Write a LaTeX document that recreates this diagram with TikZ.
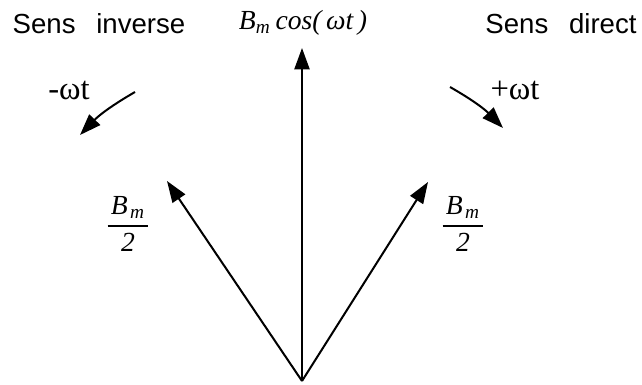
\documentclass[tikz,border=0pt]{standalone}
\usepackage{amsmath}
\usepackage{fontspec}
\setmainfont{Liberation Serif}
\newfontfamily\labelsans{Liberation Sans}
\usetikzlibrary{arrows.meta}
\definecolor{ink}{HTML}{000000}
\tikzset{
  vec/.style={-{Triangle[length=8.5pt,width=6pt]},line width=0.8pt,draw=ink},
  turn/.style={-{Triangle[length=8.5pt,width=6pt]},line width=0.8pt,draw=ink},
  sens/.style={font=\labelsans\fontsize{11}{13}\selectfont,text=ink,inner sep=0pt},
  mag/.style={font=\fontsize{11}{13}\selectfont,text=ink,inner sep=0pt},
  omega/.style={font=\fontsize{13}{15}\selectfont,text=ink,inner sep=0pt}
}
\newcommand{\halfmag}{$\dfrac{\mkern2mu\textit{B}_{\mkern2mu\textit{m}}\mkern2mu}{\textit{2}}$}

\begin{document}
\begin{tikzpicture}[x=0.014cm,y=0.014cm]
    \useasboundingbox (0,0) rectangle (642,384);

    \coordinate (orig) at (302,3);
    \coordinate (tipv) at (302,336);
    \coordinate (tipl) at (167,203);
    \coordinate (tipr) at (428,202);

    \draw[vec] (orig) -- (tipv);
    \draw[vec] (orig) -- (tipl);
    \draw[vec] (orig) -- (tipr);

    \node[sens] (inverse) at (99,360) {Sens\hspace{0.75em}inverse};
    \node[sens] (direct) at (561,360) {Sens\hspace{0.75em}direct};
    \node[mag] (cosine) at (303,361) {\textit{B}$_{\textit{m}}$\,\textit{cos(\,ωt\,)}};

    \node[mag] (halfl) at (128,160) {\halfmag};
    \node[mag] (halfr) at (463,160) {\halfmag};

    % sens de rotation
    \node[omega] (minus) at (69,294) {-ωt};
    \node[omega] (plus) at (515,294) {+ωt};
    \coordinate (invstart) at (135,292);
    \coordinate (invend) at (80,249);
    \coordinate (dirstart) at (450,297);
    \coordinate (dirend) at (503,256);
    \draw[turn] (invstart) to[bend right=8] (invend);
    \draw[turn] (dirstart) to[bend left=8] (dirend);
\end{tikzpicture}
\end{document}
